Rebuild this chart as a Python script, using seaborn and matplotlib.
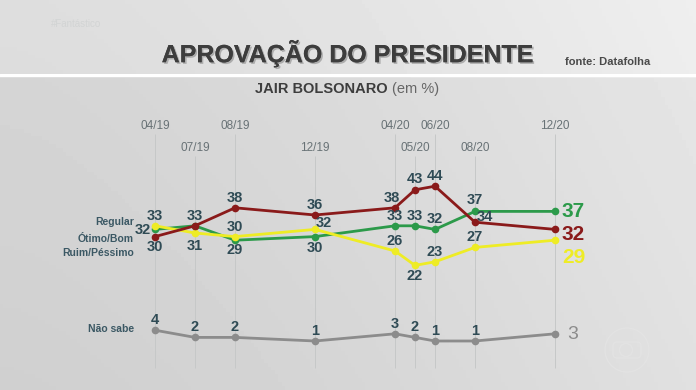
import numpy as np
import pandas as pd
import seaborn as sns
import matplotlib
matplotlib.use('Agg')
import matplotlib.pyplot as plt
import matplotlib.patheffects as pe
from matplotlib.patches import Circle, FancyBboxPatch

# pesquisas Datafolha - avaliação do governo Bolsonaro (em %)
datas = ['04/19', '07/19', '08/19', '12/19', '04/20', '05/20', '06/20', '08/20', '12/20']
# posição no eixo x, como no gráfico original (o intervalo 04/19-07/19 aparece encurtado)
meses = [0, 2, 4, 8, 12, 13, 14, 16, 20]
otimo_bom = [32, 33, 29, 30, 33, 33, 32, 37, 37]
regular = [33, 31, 30, 32, 26, 22, 23, 27, 29]
ruim_pessimo = [30, 33, 38, 36, 38, 43, 44, 34, 32]
nao_sabe = [4, 2, 2, 1, 3, 2, 1, 1, 3]

W, H = 696, 390
X0, DX = 155, 20        # pixel de 04/19 e pixels por mês
Y30, DY = 236.6, 3.6    # pixel do valor 30 e pixels por ponto percentual

cores = {'Não sabe': '#8c8c8c', 'Ótimo/Bom': '#2c9a4a',
         'Regular': '#eeec25', 'Ruim/Péssimo': '#8a1a1a'}
COR_NUM = '#2f4b55'


def pv(p):
    # pixel vertical -> valor no eixo y
    return 30 - (p - Y30) / DY


def main():
    sns.set_theme(style='white')
    plt.rcParams['font.family'] = ['Liberation Sans', 'DejaVu Sans']

    df = pd.DataFrame({
        'data': datas * 4,
        'x': meses * 4,
        'valor': nao_sabe + otimo_bom + regular + ruim_pessimo,
        'serie': (['Não sabe'] * 9 + ['Ótimo/Bom'] * 9 + ['Regular'] * 9
                  + ['Ruim/Péssimo'] * 9),
    })

    fig = plt.figure(figsize=(W / 100, H / 100), dpi=100)
    ax = fig.add_axes([0, 0, 1, 1])
    ax.set_xlim(-X0 / DX, (W - X0) / DX)
    ax.set_ylim(pv(H), pv(0))
    ax.axis('off')

    # fundo cinza em degradê (mais claro à direita e no topo)
    gx = np.linspace(0, 1, 200)
    gy = np.linspace(0, 1, 100)[:, None]
    fundo = 0.84 + 0.065 * gx ** 1.5 - 0.025 * gy
    fundo[:20] += 0.03
    x0, x1 = ax.get_xlim()
    y0, y1 = ax.get_ylim()
    ax.imshow(fundo, cmap='gray', vmin=0, vmax=1, aspect='auto', zorder=0,
              extent=(x0, x1, y0, y1), origin='upper')
    ax.axhline(pv(75), color='white', lw=2.2, zorder=1)

    # linhas verticais e datas em duas fileiras
    xt = ax.get_xaxis_transform()
    for d, m in zip(datas, meses):
        alto = d in ('04/19', '08/19', '04/20', '06/20', '12/20')
        ylab = 126 if alto else 148
        ax.text(m, 1 - ylab / H, d, transform=xt, ha='center', va='center',
                fontsize=8.5, color='#687276')
        ax.vlines(m, pv(368), pv(ylab + 8), color='#c6c8c8', lw=0.7, zorder=1)

    sns.lineplot(data=df, x='x', y='valor', hue='serie', palette=cores,
                 hue_order=['Não sabe', 'Ótimo/Bom', 'Regular', 'Ruim/Péssimo'],
                 marker='o', markersize=5.5, markeredgewidth=0, linewidth=2,
                 legend=False, ax=ax, sort=False, zorder=3)
    ax.set_xlabel('')
    ax.set_ylabel('')

    # deslocamento dos rótulos (pixels): acima por padrão
    acima = (0, 10)
    abaixo = (0, -10)
    offs = {
        'Ótimo/Bom': [(-12, -1), None, abaixo, (0, -11), acima, acima, acima, (0, 11)],
        'Regular': [acima, (0, -13), acima, (9, 6), acima, (0, -11), acima, acima],
        'Ruim/Péssimo': [abaixo, acima, acima, acima, (-3, 10), (0, 11), acima, (10, 5)],
        'Não sabe': [acima] * 8,
    }
    valores = {'Ótimo/Bom': otimo_bom, 'Regular': regular,
               'Ruim/Péssimo': ruim_pessimo, 'Não sabe': nao_sabe}
    for s, vals in valores.items():
        for m, v, o in zip(meses[:-1], vals[:-1], offs[s]):
            if o is None:
                continue
            ax.annotate(str(v), (m, v), xytext=o, textcoords='offset pixels',
                        ha='center', va='center', fontsize=10.5,
                        fontweight='bold', color=COR_NUM, zorder=5)

    # valores finais à direita
    fim = meses[-1]
    for s, dy in [('Ótimo/Bom', 0), ('Ruim/Péssimo', -5), ('Regular', -17)]:
        ax.annotate(str(valores[s][-1]), (fim, valores[s][-1]), xytext=(7, dy),
                    textcoords='offset pixels', ha='left', va='center',
                    fontsize=15, fontweight='bold', color=cores[s])
    ax.annotate(str(nao_sabe[-1]), (fim, nao_sabe[-1]), xytext=(12, -1),
                textcoords='offset pixels', ha='left', va='center',
                fontsize=14, color='#8c8c8c')

    # nomes das séries à esquerda
    for nome, y in [('Regular', 222), ('Ótimo/Bom', 239),
                    ('Ruim/Péssimo', 253), ('Não sabe', 329)]:
        fig.text(134 / W, 1 - y / H, nome, ha='right', va='center',
                 fontsize=7.5, fontweight='bold', color='#3b5864')

    # cabeçalho
    sombra = [pe.withSimplePatchShadow(offset=(1.2, -1.2),
                                       shadow_rgbFace='#a0a0a0', alpha=0.8),
              pe.Normal()]
    fig.text(347 / W, 1 - 53 / H, 'APROVAÇÃO DO PRESIDENTE', ha='center',
             va='center', fontsize=18, fontweight='bold', color='#3d3d3d',
             path_effects=sombra)
    fig.text(565 / W, 1 - 62 / H, 'fonte: Datafolha', ha='left', va='center',
             fontsize=8, fontweight='bold', color='#4a4a4a')
    fig.text(255 / W, 1 - 89 / H, 'JAIR BOLSONARO', ha='left', va='center',
             fontsize=10.5, fontweight='bold', color='#3d3d3d')
    fig.text(392 / W, 1 - 89 / H, '(em %)', ha='left', va='center',
             fontsize=10.5, color='#666666')
    fig.text(51 / W, 1 - 24 / H, '#Fantástico', ha='left', va='center',
             fontsize=7, color='#d2d4d4')

    # marca d'água (logo), em polegadas a partir do canto inferior esquerdo
    cx, cy = 6.27, (H - 350) / 100
    tr = fig.dpi_scale_trans
    kw = dict(transform=tr, fill=False, ec='#e4e4e4', lw=0.9, alpha=0.8)
    fig.add_artist(Circle((cx, cy), 0.22, **kw))
    fig.add_artist(FancyBboxPatch((cx - 0.14, cy - 0.08), 0.28, 0.16,
                                  boxstyle='round,pad=0,rounding_size=0.04', **kw))
    fig.add_artist(Circle((cx - 0.01, cy), 0.065, **kw))

    fig.savefig('out.png', dpi=100)


if __name__ == '__main__':
    main()
